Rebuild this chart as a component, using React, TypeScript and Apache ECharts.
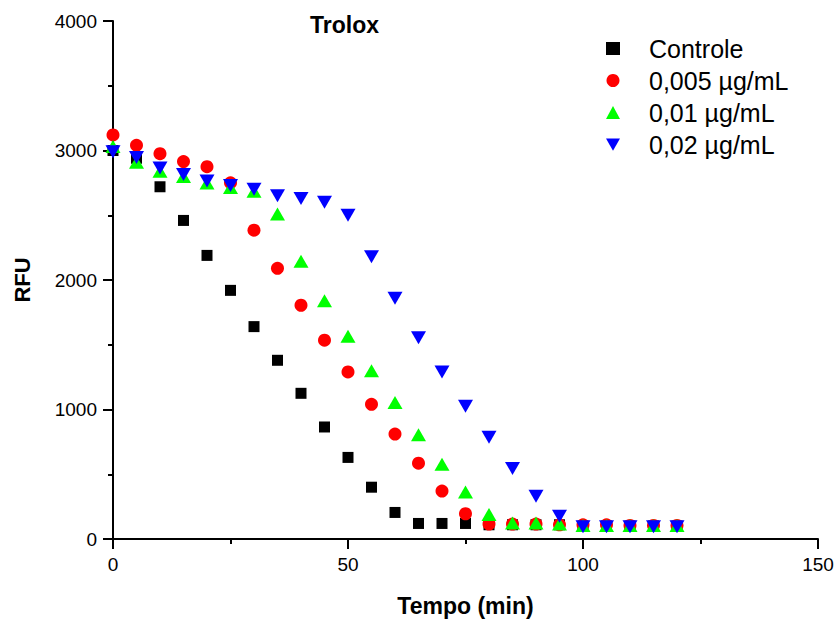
import React, { useEffect, useRef } from "react";
import * as echarts from "echarts";

const times = [0, 5, 10, 15, 20, 25, 30, 35, 40, 45, 50, 55, 60, 65, 70, 75, 80, 85, 90, 95, 100, 105, 110, 115, 120];
const controle = [3000, 2940, 2720, 2460, 2190, 1920, 1640, 1380, 1125, 865, 630, 400, 205, 120, 120, 120, 110, 110, 110, 110, 100, 100, 100, 100, 100];
const c0005 = [3120, 3040, 2975, 2915, 2875, 2750, 2385, 2090, 1805, 1535, 1290, 1040, 810, 585, 370, 195, 115, 115, 115, 110, 110, 110, 105, 105, 105];
const c001 = [3030, 2910, 2840, 2800, 2750, 2715, 2685, 2510, 2145, 1840, 1565, 1300, 1055, 805, 578, 362, 190, 123, 123, 116, 105, 105, 105, 105, 105];
const c002 = [2990, 2945, 2865, 2815, 2765, 2730, 2700, 2650, 2630, 2600, 2500, 2180, 1860, 1555, 1290, 1025, 785, 545, 330, 175, 95, 95, 95, 95, 95];

const seriesNames = ["Controle", "0,005 µg/mL", "0,01 µg/mL", "0,02 µg/mL"];
const xTicks = [0, 150];
const yTicks = [0, 4000];

const FONT = "'Liberation Sans', Arial, sans-serif";
const DOWN_TRI = "path://M0,0 L2,0 L1,1.75 Z";

export default function App() {
  const ref = useRef<HTMLDivElement>(null);
  useEffect(() => {
    if (!ref.current) return;
    const chart = echarts.init(ref.current, undefined, { renderer: "svg" });
    const pair = (ys: number[]) => times.map((t, i) => [t, ys[i]]);
    const axisCommon = {
      axisLine: { show: true, onZero: false, lineStyle: { color: "#000", width: 2 } },
      axisTick: { show: true, inside: false, length: 10, lineStyle: { color: "#000", width: 2 } },
      minorTick: { show: true, splitNumber: 2, length: 5, lineStyle: { color: "#000", width: 2 } },
      splitLine: { show: false },
      minorSplitLine: { show: false },
    };
    chart.setOption({
      animation: false,
      backgroundColor: "#fff",
      textStyle: { fontFamily: FONT },
      title: {
        text: "Trolox",
        left: 310,
        top: 13,
        padding: 0,
        textStyle: { fontFamily: FONT, fontWeight: "bold", fontSize: 23, color: "#000" },
      },
      legend: {
        orient: "vertical",
        left: 606,
        top: 36,
        padding: 0,
        itemWidth: 14,
        itemHeight: 13,
        itemGap: 7,
        data: [
          { name: seriesNames[0], icon: "rect" },
          { name: seriesNames[1], icon: "circle" },
          { name: seriesNames[2], icon: "triangle" },
          { name: seriesNames[3], icon: DOWN_TRI },
        ],
        textStyle: { fontFamily: FONT, fontSize: 25, color: "#000", lineHeight: 25, padding: [0, 0, 0, 24] },
      },
      grid: { left: 113, right: 20, top: 21, bottom: 81, containLabel: false },
      xAxis: {
        type: "value",
        min: xTicks[0],
        max: xTicks[1],
        interval: 50,
        name: "Tempo (min)",
        nameLocation: "middle",
        nameGap: 55,
        nameTextStyle: { fontFamily: FONT, fontWeight: "bold", fontSize: 23, color: "#000" },
        axisLabel: { color: "#000", fontSize: 19, fontFamily: FONT, margin: 16, formatter: (v: number) => String(v) },
        ...axisCommon,
      },
      yAxis: {
        type: "value",
        min: yTicks[0],
        max: yTicks[1],
        interval: 1000,
        name: "RFU",
        nameLocation: "middle",
        nameGap: 80,
        nameRotate: 90,
        nameTextStyle: { fontFamily: FONT, fontWeight: "bold", fontSize: 22, color: "#000" },
        axisLabel: { color: "#000", fontSize: 19, fontFamily: FONT, margin: 16, formatter: (v: number) => String(v) },
        ...axisCommon,
      },
      series: [
        { name: seriesNames[0], type: "scatter", data: pair(controle), symbol: "rect", symbolSize: 11, itemStyle: { color: "#000000", opacity: 1 } },
        { name: seriesNames[1], type: "scatter", data: pair(c0005), symbol: "circle", symbolSize: 13, itemStyle: { color: "#ff0000", opacity: 1 } },
        { name: seriesNames[2], type: "scatter", data: pair(c001), symbol: "triangle", symbolSize: [15, 13], itemStyle: { color: "#00ff00", opacity: 1 } },
        { name: seriesNames[3], type: "scatter", data: pair(c002), symbol: "triangle", symbolRotate: 180, symbolSize: [15, 13], itemStyle: { color: "#0000ff", opacity: 1 } },
      ],
    });
    return () => chart.dispose();
  }, []);
  return <div ref={ref} style={{ width: 838, height: 622, position: "absolute", left: 0, top: 0 }} />;
}
